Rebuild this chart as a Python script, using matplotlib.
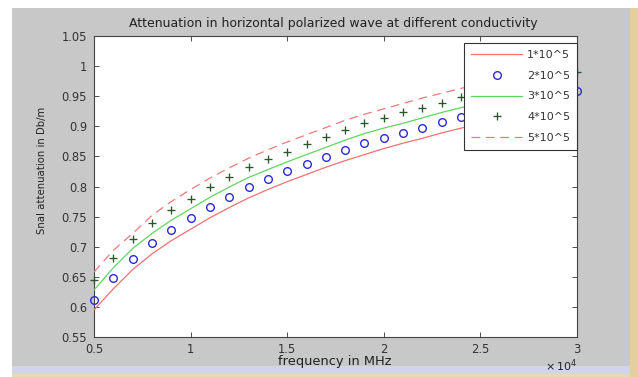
import matplotlib
matplotlib.use("Agg")
import matplotlib.pyplot as plt
from matplotlib.patches import Rectangle

plt.rcParams['font.family'] = ['DejaVu Sans']

# ---- data ----
freq = [5000, 6000, 7000, 8000, 9000, 10000, 11000, 12000, 13000, 14000,
        15000, 16000, 17000, 18000, 19000, 20000, 21000, 22000, 23000, 24000,
        25000, 26000, 27000, 28000, 29000, 30000]

sig_1e5 = [0.595, 0.630, 0.662, 0.688, 0.710, 0.729, 0.748, 0.765, 0.781, 0.795,
           0.808, 0.820, 0.832, 0.843, 0.853, 0.863, 0.872, 0.880, 0.889, 0.897,
           0.904, 0.912, 0.919, 0.926, 0.933, 0.940]
sig_2e5 = [0.611, 0.648, 0.680, 0.706, 0.728, 0.747, 0.766, 0.783, 0.799, 0.812,
           0.825, 0.837, 0.849, 0.861, 0.872, 0.881, 0.889, 0.898, 0.907, 0.916,
           0.922, 0.929, 0.937, 0.944, 0.951, 0.958]
sig_3e5 = [0.628, 0.665, 0.697, 0.722, 0.744, 0.763, 0.782, 0.799, 0.815, 0.828,
           0.841, 0.853, 0.865, 0.877, 0.888, 0.897, 0.905, 0.914, 0.923, 0.931,
           0.938, 0.945, 0.953, 0.960, 0.967, 0.974]
sig_4e5 = [0.644, 0.682, 0.712, 0.739, 0.761, 0.780, 0.799, 0.816, 0.832, 0.845,
           0.858, 0.870, 0.882, 0.894, 0.905, 0.913, 0.923, 0.931, 0.939, 0.948,
           0.955, 0.962, 0.970, 0.977, 0.984, 0.991]
sig_5e5 = [0.658, 0.694, 0.722, 0.752, 0.775, 0.795, 0.814, 0.831, 0.847, 0.861,
           0.874, 0.886, 0.898, 0.910, 0.920, 0.929, 0.938, 0.947, 0.955, 0.963,
           0.971, 0.978, 0.986, 0.993, 1.000, 1.006]

labels = ['1*10^5', '2*10^5', '3*10^5', '4*10^5', '5*10^5']

xticks = [5000, 10000, 15000, 20000, 25000, 30000]
xticklabels = ['0.5', '1', '1.5', '2', '2.5', '3']
yticks = [0.55, 0.6, 0.65, 0.7, 0.75, 0.8, 0.85, 0.9, 0.95, 1.0, 1.05]
yticklabels = ['0.55', '0.6', '0.65', '0.7', '0.75', '0.8', '0.85', '0.9', '0.95', '1', '1.05']

title = 'Attenuation in horizontal polarized wave at different conductivity'
xlabel = 'frequency in MHz'
ylabel = 'Snal attenuation in Db/m'

# ---- figure ----
W, H = 638, 377
fig = plt.figure(figsize=(W / 100, H / 100), dpi=100, facecolor='white')

def frect(x0, y0, x1, y1, color):
    # pixel coords (top-left origin)
    fig.patches.append(Rectangle((x0 / W, 1 - y1 / H), (x1 - x0) / W, (y1 - y0) / H,
                                 transform=fig.transFigure, facecolor=color,
                                 edgecolor='none', zorder=-10))

frect(12, 8, 630, 366, '#c8c8c8')
frect(12, 366, 630, 374, '#d2d5e6')
frect(12, 374, 630, 377, '#e9d8b6')
frect(630, 8, 638, 377, '#e6cf9f')

ax_l, ax_r, ax_t, ax_b = 94, 577, 36, 337
ax = fig.add_axes([ax_l / W, 1 - ax_b / H, (ax_r - ax_l) / W, (ax_b - ax_t) / H])
ax.set_facecolor('white')

ax.plot(freq, sig_1e5, '-', color='#f07272', lw=0.9, label=labels[0], zorder=3)
ax.plot(freq, sig_2e5, 'o', color='#2a2ad8', ms=5.5, mfc='none', mew=1.0,
        label=labels[1], zorder=4, clip_on=False)
ax.plot(freq, sig_3e5, '-', color='#5fd65f', lw=0.9, label=labels[2], zorder=3)
ax.plot(freq, sig_4e5, '+', color='#2b552b', ms=6.3, mew=0.95, label=labels[3], zorder=4,
        clip_on=False)
ax.plot(freq, sig_5e5, '--', color='#f07a7a', lw=0.9, dashes=(7, 4.5),
        label=labels[4], zorder=3)

ax.set_xlim(5000, 30000)
ax.set_ylim(0.55, 1.05)
ax.set_xticks(xticks)
ax.set_xticklabels(xticklabels)
ax.set_yticks(yticks)
ax.set_yticklabels(yticklabels)
ax.tick_params(direction='in', length=3.5, width=0.6, top=True, right=True,
               labelsize=8.3, colors='#333333')
ax.tick_params(axis='x', pad=4)
ax.tick_params(axis='y', pad=5)
for s in ax.spines.values():
    s.set_color('#444444')
    s.set_linewidth(0.8)

fig.text(333 / W, 1 - 24 / H, title, ha='center', va='center', fontsize=9.0, color='#222222')
fig.text(335 / W, 1 - 362 / H, xlabel, ha='center', va='center', fontsize=9.4, color='#222222')
fig.text(42 / W, 1 - 170 / H, ylabel, ha='center', va='center', rotation=90,
         fontsize=7.3, color='#222222')
fig.text(561 / W, 1 - 366 / H, r'$\times\,10^{4}$', ha='center', va='center',
         fontsize=8, color='#222222')

leg = ax.legend(loc='upper right', bbox_to_anchor=(1.0, 1 - 7 / 301), borderaxespad=0,
                prop={'size': 8}, fancybox=False, framealpha=1, edgecolor='#333333',
                handlelength=4.6, handletextpad=0.45, labelspacing=0.98, borderpad=0.6)
leg.get_frame().set_linewidth(0.8)
leg.set_zorder(10)
for t in leg.get_texts():
    t.set_color('#333333')

fig.savefig('out.png', dpi=100, facecolor=fig.get_facecolor())
